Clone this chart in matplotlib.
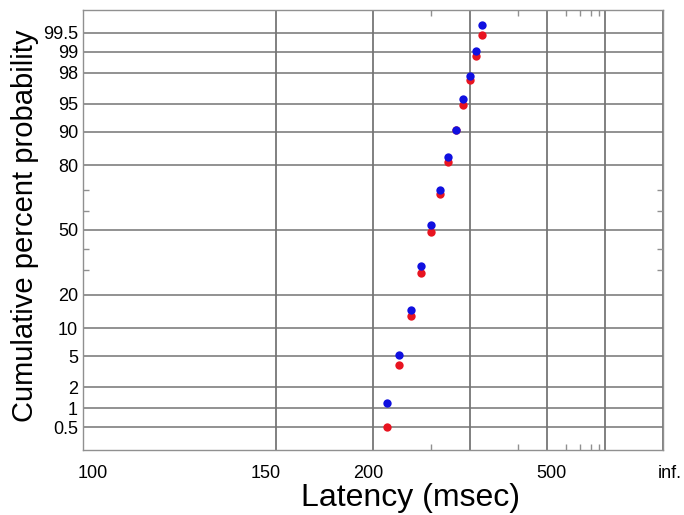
import numpy as np
import matplotlib
matplotlib.use("Agg")
import matplotlib.pyplot as plt
import matplotlib.transforms as mtransforms
from statistics import NormalDist

plt.rcParams['font.family'] = ['Liberation Sans', 'DejaVu Sans']

# latency (msec) of each point, shared by both series
latency = [320, 310, 300, 290, 280, 270, 260, 250, 240, 230, 220, 210]
# cumulative percent probability
blue_pct = [99.63, 99.04, 97.79, 95.59, 90.5, 83.1, 69.9, 52.4, 31.9, 14.8, 5.2, 1.18]
red_pct = [99.45, 98.85, 97.46, 94.9, 90.3, 81.2, 68.1, 49.2, 28.9, 13.0, 3.9, 0.50]

INF = 1e12
x_ticks = [100, 150, 200, 300, 500, 1000, INF]
x_labels = ['100', '150', '200', '', '500', '', 'inf.']
x_minor = [250, 400, 600, 700, 800, 900]
y_ticks = [0.5, 1, 2, 5, 10, 20, 50, 80, 90, 95, 98, 99, 99.5]
y_labels = ['0.5', '1', '2', '5', '10', '20', '50', '80', '90', '95', '98', '99', '99.5']
y_minor = [30, 40, 60, 70]

# small horizontal nudges (px) of the x tick labels, as in the original figure
x_label_shift = [9.5, -11, -4.5, 0, 4.7, 0, 7]

nd = NormalDist()


def probit(p):
    p = np.clip(np.asarray(p, dtype=float) / 100.0, 1e-12, 1 - 1e-12)
    return np.vectorize(nd.inv_cdf, otypes=[float])(p)


def inv_probit(z):
    return 100.0 * np.vectorize(nd.cdf, otypes=[float])(np.asarray(z, dtype=float))


def recip(x):
    with np.errstate(divide='ignore', invalid='ignore'):
        return -1.0 / np.asarray(x, dtype=float)


fig = plt.figure(figsize=(6.84, 5.15), dpi=100)
ax = fig.add_axes([83 / 684, 65 / 515, 580 / 684, 440 / 515])

ax.set_xscale('function', functions=(recip, recip))
ax.set_yscale('function', functions=(probit, inv_probit))

ax.plot(latency, red_pct, 'o', color='#e81420', ms=6, mew=0, zorder=3)
ax.plot(latency, blue_pct, 'o', color='#1010e0', ms=6, mew=0, zorder=4)

ax.set_xlim(100, INF)
ax.set_ylim(0.205, 99.795)

ax.set_xticks(x_ticks)
ax.set_xticklabels(x_labels)
ax.set_xticks(x_minor, minor=True)
ax.set_yticks(y_ticks)
ax.set_yticklabels(y_labels)
ax.set_yticks(y_minor, minor=True)

ax.xaxis.grid(True, which='major', color='#5e5e5e', lw=1.1)
ax.yaxis.grid(True, which='major', color='#747474', lw=1.1)
ax.tick_params(which='major', length=0, labelsize=13)
ax.tick_params(axis='x', which='major', pad=11)
ax.tick_params(axis='y', which='major', pad=3.6)
ax.tick_params(which='minor', direction='in', length=4, width=1, color='#909090',
               top=True, right=True)
for s in ax.spines.values():
    s.set_color('#909090')
    s.set_linewidth(1.0)

for lab, dx in zip(ax.get_xticklabels(), x_label_shift):
    lab.set_transform(lab.get_transform() +
                      mtransforms.ScaledTranslation(dx / 100, 0, fig.dpi_scale_trans))

ax.set_xlabel('Latency (msec)', fontsize=23)
ax.xaxis.set_label_coords(0.5655, -0.075)
ax.set_ylabel('Cumulative percent probability', fontsize=21)
ax.yaxis.set_label_coords(-0.075, 0.51)

fig.savefig('out.png', dpi=100)
